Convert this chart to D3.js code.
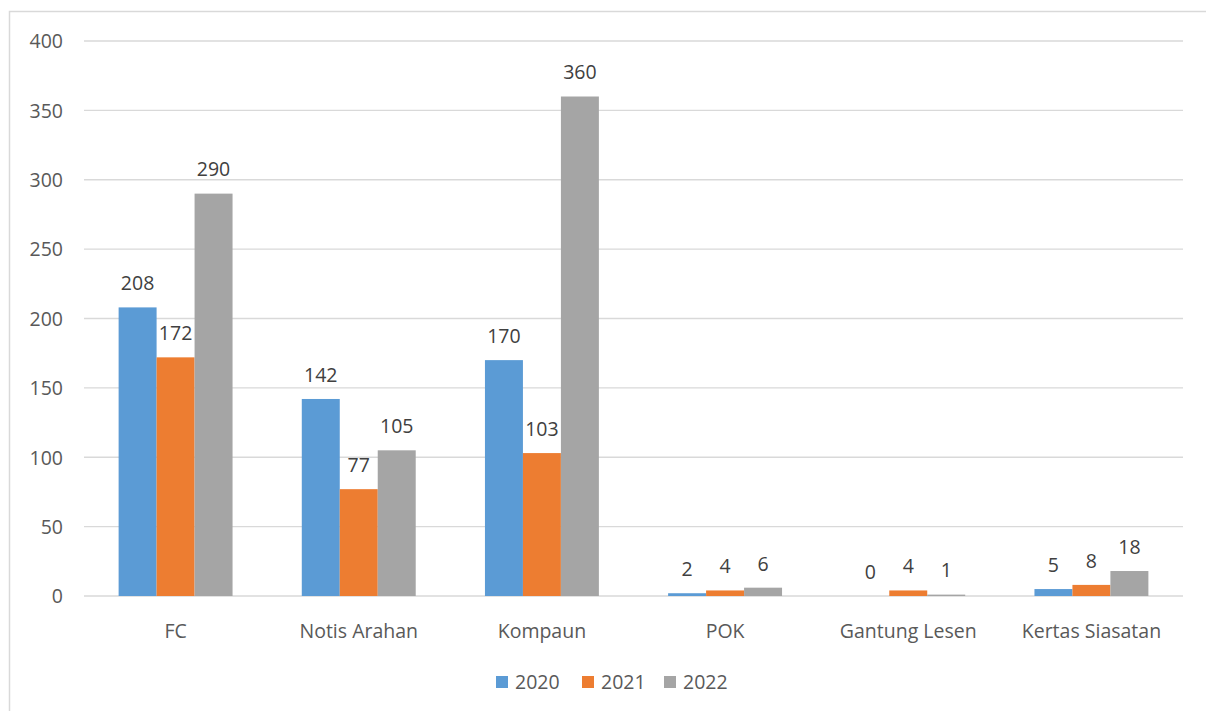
<!DOCTYPE html>
<html><head><meta charset="utf-8">
<script src="https://cdn.jsdelivr.net/npm/d3@7"></script>
<style>body{margin:0;background:#fff}svg{display:block}</style>
</head><body>
<svg id="c" width="1206" height="711"></svg>
<script>
const categories = ["FC","Notis Arahan","Kompaun","POK","Gantung Lesen","Kertas Siasatan"];
const seriesNames = ["2020","2021","2022"];
const values2020 = [208,142,170,2,0,5];
const values2021 = [172,77,103,4,4,8];
const values2022 = [290,105,360,6,1,18];
const yTicks = [0,50,100,150,200,250,300,350,400];
const colors = ["#5B9BD5","#ED7D31","#A5A5A5"];
const seriesValues = [values2020, values2021, values2022];

const svg = d3.select("#c");
const font = "'Open Sans', sans-serif";
const fs = 19.5;
const txt = "#595959";

svg.append("rect").attr("x",9.5).attr("y",11.5).attr("width",1220).attr("height",720)
  .attr("fill","none").attr("stroke","#D9D9D9").attr("stroke-width",1.5);

const x0 = d3.scaleBand().domain(categories).range([84,1183]).paddingInner(0).paddingOuter(0);
const groupW = x0.bandwidth()*0.622;
const x1 = d3.scaleBand().domain(seriesNames).range([0,groupW]);
const y = d3.scaleLinear().domain([0,400]).range([596,41]);

// grid
svg.append("g").selectAll("line").data(yTicks).join("line")
  .attr("x1",84).attr("x2",1183).attr("y1",d=>y(d)).attr("y2",d=>y(d))
  .attr("stroke","#D9D9D9").attr("stroke-width",1.3);

// y axis labels
const yAxis = d3.axisLeft(y).tickValues(yTicks).tickSize(0).tickPadding(0);
const ga = svg.append("g").attr("transform","translate(63,0)").call(yAxis);
ga.select(".domain").remove();
ga.selectAll("text").attr("font-family",font).attr("font-size",fs).attr("fill",txt).attr("dy","0.35em");

// x axis labels
const xAxis = d3.axisBottom(x0).tickSize(0).tickPadding(0);
const gx = svg.append("g").attr("transform","translate(0,631)").call(xAxis);
gx.select(".domain").remove();
gx.selectAll("text").attr("font-family",font).attr("font-size",fs).attr("fill",txt).attr("dy","0.35em");

// bars
const groups = svg.append("g").selectAll("g").data(categories).join("g")
  .attr("transform",d=>`translate(${x0(d)+(x0.bandwidth()-groupW)/2},0)`);
groups.each(function(cat,ci){
  const g = d3.select(this);
  seriesNames.forEach((s,si)=>{
    const v = seriesValues[si][ci];
    g.append("rect").attr("x",x1(s)).attr("width",x1.bandwidth())
      .attr("y",y(v)).attr("height",y(0)-y(v)).attr("fill",colors[si]);
    g.append("text").attr("x",x1(s)+x1.bandwidth()/2).attr("y",y(v)-24).attr("dy","0.35em")
      .attr("text-anchor","middle").attr("font-family",font).attr("font-size",fs)
      .attr("fill","#404040").text(v);
  });
});

// legend
const leg = svg.append("g").attr("transform","translate(0,682)");
const legX = [496,582,664];
seriesNames.forEach((s,i)=>{
  leg.append("rect").attr("x",legX[i]).attr("y",-6).attr("width",12).attr("height",12).attr("fill",colors[i]);
  leg.append("text").attr("x",legX[i]+19).attr("y",0).attr("dy","0.35em")
    .attr("font-family",font).attr("font-size",fs).attr("fill",txt).text(s);
});
</script>
</body></html>
